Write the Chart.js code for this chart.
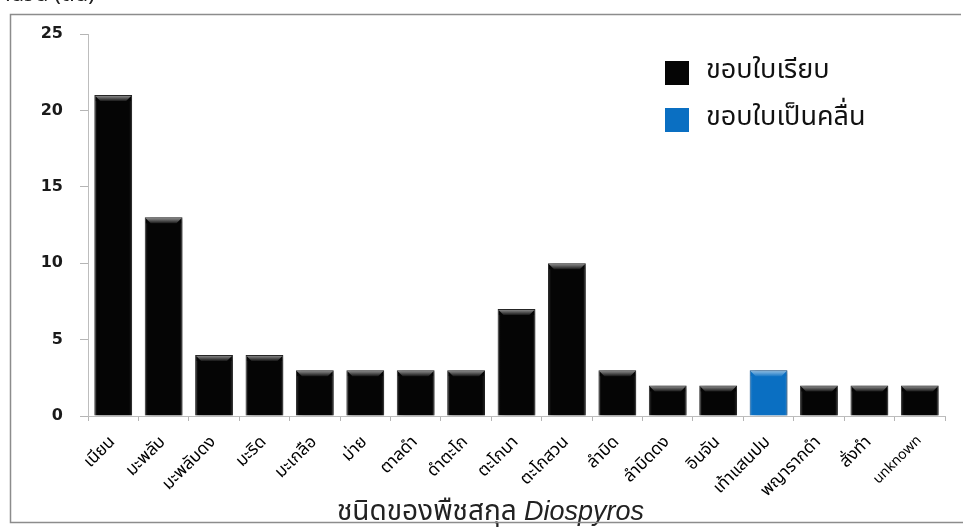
<!DOCTYPE html>
<html>
<head>
<meta charset="utf-8">
<script src="https://cdn.jsdelivr.net/npm/chart.js@4/dist/chart.umd.min.js"></script>
<style>
  html, body { margin: 0; padding: 0; background: #fff; }
  #wrap { width: 963px; height: 527px; position: relative; }
</style>
</head>
<body>
<div id="wrap"><canvas id="c"></canvas></div>
<script>
// Species of the genus Diospyros and tree counts per leaf-margin type
const categories = ['เนียน', 'มะพลับ', 'มะพลับดง', 'มะริด', 'มะเกลือ', 'ม่าย', 'ตาลดำ', 'ดำตะโก',
  'ตะโกนา', 'ตะโกสวน', 'ลำบิด', 'ลำบิดดง', 'อินจัน', 'เท้าแสนปม', 'พญารากดำ', 'สั่งทำ', 'unknown'];
const smoothMargin = [21, 13, 4, 4, 3, 3, 3, 3, 7, 10, 3, 2, 2, null, 2, 2, 2];
const wavyMargin   = [null, null, null, null, null, null, null, null, null, null, null, null, null, 3, null, null, null];
const seriesNames = ['ขอบใบเรียบ', 'ขอบใบเป็นคลื่น'];
const yTicks = [0, 5, 10, 15, 20, 25];
const yAxisTitle = 'จำนวน (ต้น)';
const xTitleThai = 'ชนิดของพืชสกุล ';
const xTitleGenus = 'Diospyros';

const THAI = 'Tahoma, "Noto Sans Thai", "Noto Sans", "DejaVu Sans", sans-serif';
const colors = ['#050505', '#0a6fc2'];
const borders = ['#2a2a2a', '#0b4f8c'];

// soft drop shadow behind the bars
const barShadow = {
  id: 'barShadow',
  beforeDatasetsDraw(chart) {
    const ctx = chart.ctx;
    ctx.save();
    ctx.shadowColor = 'rgba(0,0,0,0.35)';
    ctx.shadowBlur = 5;
    ctx.shadowOffsetX = 3;
    ctx.shadowOffsetY = 1;
  },
  afterDatasetsDraw(chart) {
    const ctx = chart.ctx;
    ctx.restore();
    // bevel highlight along the top of every bar
    chart.data.datasets.forEach((ds, di) => {
      const meta = chart.getDatasetMeta(di);
      meta.data.forEach((bar, i) => {
        if (ds.data[i] == null) return;
        const w = bar.width, l = bar.x - w / 2, r = bar.x + w / 2, t = bar.y;
        const d = 6;
        const g = ctx.createLinearGradient(0, t, 0, t + d);
        g.addColorStop(0, 'rgba(255,255,255,0.6)');
        g.addColorStop(1, 'rgba(255,255,255,0.08)');
        ctx.save();
        ctx.fillStyle = g;
        ctx.beginPath();
        ctx.moveTo(l + 1, t + 1);
        ctx.lineTo(r - 1, t + 1);
        ctx.lineTo(r - d, t + d);
        ctx.lineTo(l + d, t + d);
        ctx.closePath();
        ctx.fill();
        // faint side edges
        const sg = ctx.createLinearGradient(l, 0, r, 0);
        sg.addColorStop(0, 'rgba(255,255,255,0.18)');
        sg.addColorStop(0.08, 'rgba(255,255,255,0)');
        sg.addColorStop(0.92, 'rgba(255,255,255,0)');
        sg.addColorStop(1, 'rgba(255,255,255,0.12)');
        ctx.fillStyle = sg;
        ctx.fillRect(l + 1, t + d, w - 2, bar.base - t - d);
        ctx.restore();
      });
    });
  }
};

// legend, axis titles and the outer frame
const decorations = {
  id: 'decorations',
  afterDraw(chart) {
    const ctx = chart.ctx;
    const area = chart.chartArea;
    ctx.save();
    // legend
    chart.data.datasets.forEach((ds, i) => {
      const top = 61 + i * 47;
      ctx.fillStyle = colors[i];
      ctx.fillRect(665, top, 24, 24);
      ctx.fillStyle = '#111';
      ctx.font = '27px ' + THAI;
      ctx.textBaseline = 'middle';
      ctx.textAlign = 'left';
      ctx.fillText(ds.label, 706, top + 12);
    });
    // y axis title (top-left)
    ctx.textBaseline = 'alphabetic';
    ctx.fillStyle = '#222';
    ctx.font = '22px ' + THAI;
    ctx.fillText(yAxisTitle, -10, 1);
    // x axis title with italic genus name
    ctx.font = '28px ' + THAI;
    const w1 = ctx.measureText(xTitleThai).width;
    ctx.font = 'italic 27px "Liberation Sans", Arial, sans-serif';
    const w2 = ctx.measureText(xTitleGenus).width;
    const cx = (area.left + area.right) / 2 - 26;
    let x = cx - (w1 + w2) / 2;
    const base = 520;
    ctx.font = '28px ' + THAI;
    ctx.fillText(xTitleThai, x, base);
    ctx.font = 'italic 27px "Liberation Sans", Arial, sans-serif';
    ctx.fillText(xTitleGenus, x + w1, base);
    // frame
    ctx.strokeStyle = '#8c8c8c';
    ctx.lineWidth = 1.5;
    ctx.beginPath();
    ctx.moveTo(961, 14.5);
    ctx.lineTo(10.5, 14.5);
    ctx.lineTo(10.5, 522.5);
    ctx.lineTo(963, 522.5);
    ctx.stroke();
    ctx.restore();
  }
};

new Chart(document.getElementById('c'), {
  type: 'bar',
  data: {
    labels: categories,
    datasets: [
      { label: seriesNames[0], data: smoothMargin, backgroundColor: colors[0], borderColor: borders[0], borderWidth: 1 },
      { label: seriesNames[1], data: wavyMargin, backgroundColor: colors[1], borderColor: borders[1], borderWidth: 1 }
    ]
  },
  options: {
    responsive: true,
    maintainAspectRatio: false,
    animation: false,
    events: [],
    layout: { padding: { top: 34, right: 18, bottom: 0, left: 0 } },
    datasets: { bar: { categoryPercentage: 1, barPercentage: 0.75, skipNull: true } },
    plugins: { legend: { display: false }, tooltip: { enabled: false }, title: { display: false } },
    scales: {
      x: {
        stacked: true,
        grid: { drawOnChartArea: false, drawTicks: true, tickLength: 5, color: '#b5b5b5', offset: true },
        border: { display: true, color: '#bdbdbd', width: 1 },
        ticks: {
          autoSkip: false, maxRotation: 45, minRotation: 45, padding: 12,
          color: '#000',
          font: (c) => ({ family: THAI, size: (c.tick && /^[a-z]/i.test(c.tick.label)) ? 14 : 17 })
        },
        afterFit(scale) { scale.height = 111; }
      },
      y: {
        stacked: true,
        min: 0, max: 25,
        afterBuildTicks(scale) { scale.ticks = yTicks.map(v => ({ value: v })); },
        grid: { drawOnChartArea: false, drawTicks: true, tickLength: 8, color: '#b5b5b5' },
        border: { display: true, color: '#bdbdbd', width: 1 },
        ticks: { padding: 17, color: '#1a1a1a', font: { family: '"DejaVu Sans", sans-serif', size: 16, weight: 'bold' } },
        afterFit(scale) { scale.width = 88; }
      }
    }
  },
  plugins: [barShadow, decorations]
});
</script>
</body>
</html>
